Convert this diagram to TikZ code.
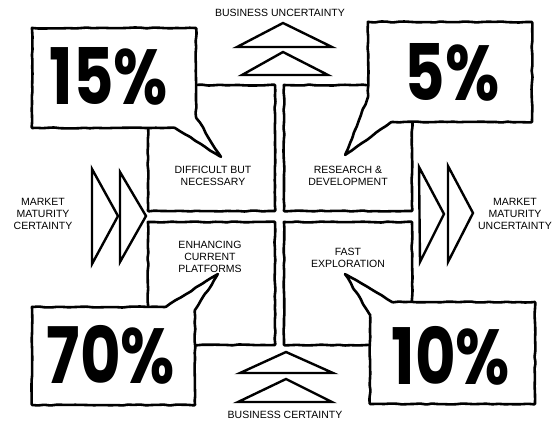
\documentclass[tikz,border=0pt]{standalone}
\usepackage{fontspec}
\setmainfont{Liberation Sans}
\newfontfamily\bigfont{Poppins}
\usetikzlibrary{decorations.pathmorphing}

\tikzset{
  ink/.style={line width=2.6pt, line join=round, line cap=round},
  wobbly/.style={ink, decorate, decoration={random steps, segment length=6pt, amplitude=0.55pt}, rounded corners=0.8pt},
  chevron/.style={line width=2.4pt, line join=miter, line cap=round},
  label/.style={align=center, font=\fontsize{10.5}{12}\selectfont, inner sep=0pt},
  percent/.style={inner sep=0pt, font=\bigfont\bfseries\fontsize{78}{78}\selectfont}
}

\begin{document}
\begin{tikzpicture}[x=1pt, y=-1pt]

    % Fix the page size
    \useasboundingbox (0,0) rectangle (555,425);

    % Define the inner corners of the four quadrants
    \coordinate (TL) at (148,85);
    \coordinate (TR) at (412,85);
    \coordinate (BL) at (148,345);
    \coordinate (BR) at (412,345);

    % Draw the four quadrant boxes
    \draw[wobbly] (TL) rectangle (275,211);
    \draw[wobbly] (284,85) rectangle (412,211);
    \draw[wobbly] (148,222) rectangle (275,345);
    \draw[wobbly] (284,222) rectangle (BR);

    % Quadrant labels
    \node[label] (difficult) at (213,176) {DIFFICULT BUT\\NECESSARY};
    \node[label] (research) at (348,176) {RESEARCH \&\\DEVELOPMENT};
    \node[label] (enhancing) at (210,257) {ENHANCING\\CURRENT\\PLATFORMS};
    \node[label] (fast) at (348,258) {FAST\\EXPLORATION};

    % Speech bubble for the top left quadrant
    \draw[wobbly, fill=white] (32,28) -- (196,28) -- (196,117) -- (221,157)
        -- (175,128) -- (32,128) -- cycle;
    \node[percent] (fifteen) at (109,76) {\scalebox{0.8}[1]{15\%}};

    % Speech bubble for the top right quadrant
    \draw[wobbly, fill=white] (368,22) -- (532,22) -- (532,122) -- (392,122)
        -- (345,155) -- (368,97) -- cycle;
    \node[percent] (five) at (452,72) {\scalebox{0.8}[1]{5\%}};

    % Speech bubble for the bottom left quadrant
    \draw[wobbly, fill=white] (32,307) -- (165,307) -- (218,274) -- (195,310)
        -- (195,405) -- (32,405) -- cycle;
    \node[percent] (seventy) at (111,355) {\scalebox{0.8}[1]{70\%}};

    % Speech bubble for the bottom right quadrant
    \draw[wobbly, fill=white] (370,315) -- (345,274) -- (392,302) -- (535,302)
        -- (535,404) -- (370,404) -- cycle;
    \node[percent] (ten) at (451,356) {\scalebox{0.8}[1]{10\%}};

    % Upward chevrons above the grid
    \draw[chevron] (283,23) -- (237,47) -- (332,47) -- cycle;
    \draw[chevron] (283,52) -- (242,75) -- (328,75) -- cycle;
    \node[label] (bizUncertain) at (280,13) {BUSINESS UNCERTAINTY};

    % Upward chevrons below the grid
    \draw[chevron] (286,352) -- (240,373) -- (333,373) -- cycle;
    \draw[chevron] (286,379) -- (238,402) -- (332,402) -- cycle;
    \node[label] (bizCertain) at (285,415) {BUSINESS CERTAINTY};

    % Rightward chevrons on the left side
    \draw[chevron] (92,169) -- (118,216) -- (92,264) -- cycle;
    \draw[chevron] (120,172) -- (146,216) -- (120,262) -- cycle;
    \node[label] (mktCertain) at (43,214) {MARKET\\MATURITY\\CERTAINTY};

    % Rightward chevrons on the right side
    \draw[chevron] (419,167) -- (444,214) -- (420,262) -- cycle;
    \draw[chevron] (448,166) -- (473,213) -- (448,262) -- cycle;
    \node[label] (mktUncertain) at (515,214) {MARKET\\MATURITY\\UNCERTAINTY};

\end{tikzpicture}
\end{document}
